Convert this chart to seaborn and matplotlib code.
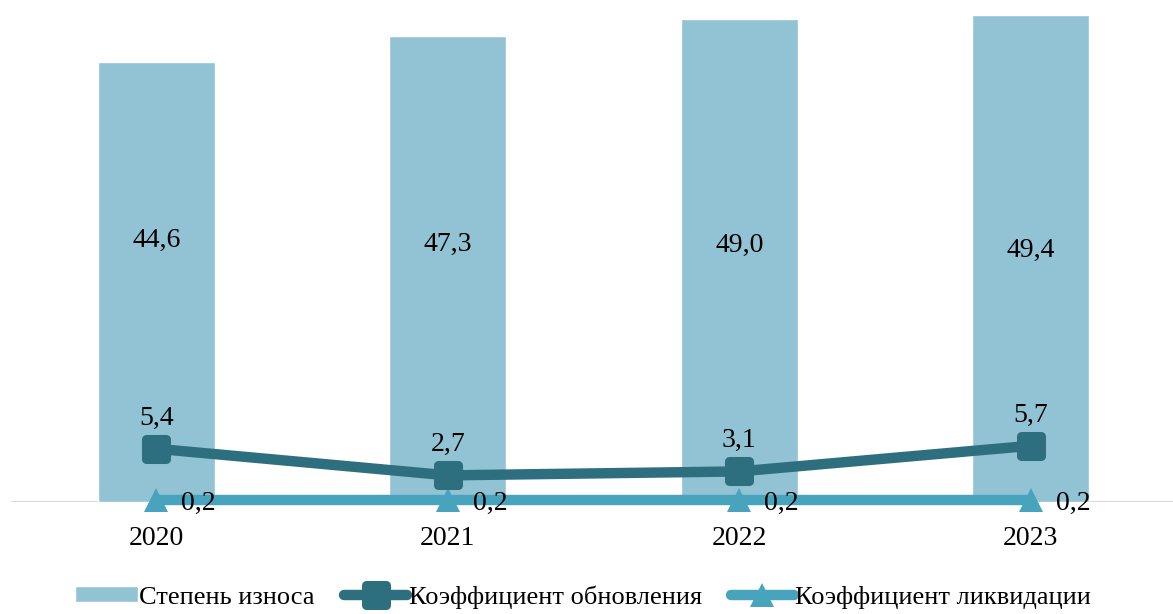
import numpy as np
import pandas as pd
import matplotlib
matplotlib.use("Agg")
import matplotlib.pyplot as plt
from matplotlib.markers import MarkerStyle
import seaborn as sns

years = ["2020", "2021", "2022", "2023"]
wear = [44.6, 47.3, 49.0, 49.4]
renewal = [5.4, 2.7, 3.1, 5.7]
liquidation = [0.2, 0.2, 0.2, 0.2]

names = ["Степень износа", "Коэффициент обновления", "Коэффициент ликвидации"]

bar_color = "#92C3D4"
dark_color = "#2E6F7F"
light_color = "#47A4BC"

sns.set_theme(style="white")
plt.rcParams["font.family"] = ["Liberation Serif", "DejaVu Serif"]
plt.rcParams["text.color"] = "black"
plt.rcParams["xtick.color"] = "black"

fig = plt.figure(figsize=(11.73, 6.14), dpi=100)
ax = fig.add_axes([0.009, 0.1824, 0.994, 0.8176])

df = pd.DataFrame({"year": years, "wear": wear})
sns.barplot(data=df, x="year", y="wear", color=bar_color, width=0.4,
            saturation=1, ax=ax, label=names[0], zorder=2)
if ax.get_legend() is not None:
    ax.get_legend().remove()

ax.axhline(0, color="#d9d9d9", lw=1.5, zorder=1)

x = np.arange(len(years))
sq = MarkerStyle("s", joinstyle="round")
ax.plot(x, renewal, color=dark_color, lw=7.5, marker=sq, markersize=14.5,
        markeredgewidth=6.5, markeredgecolor=dark_color, markerfacecolor=dark_color,
        solid_capstyle="round", label=names[1], zorder=4, clip_on=False)
ax.plot(x, liquidation, color=light_color, lw=7.5, marker="^", markersize=17,
        markeredgewidth=0, markerfacecolor=light_color, label=names[2], zorder=3,
        clip_on=False)

fmt = lambda v: f"{v:.1f}".replace(".", ",")
wear_label_y = [26.5, 26.1, 26.0, 25.5]
for i, v in enumerate(wear):
    ax.text(i, wear_label_y[i], fmt(v), ha="center", va="center", fontsize=20)
for i, v in enumerate(renewal):
    ax.text(i, v + 3.1, fmt(v), ha="center", va="center", fontsize=20)
for i, v in enumerate(liquidation):
    ax.text(i + 0.145, v - 0.3, fmt(v), ha="center", va="center", fontsize=20,
            zorder=5)

ax.set_xlim(-0.5, 3.5)
ax.set_ylim(0, 50.9)
ax.set_xlabel("")
ax.set_ylabel("")
ax.set_yticks([])
ax.tick_params(axis="x", length=0, pad=17, labelsize=20, labelcolor="black")
for s in ax.spines.values():
    s.set_visible(False)

handles, labels = ax.get_legend_handles_labels()
order = [labels.index(n) for n in names]
fig.legend([handles[k] for k in order], [labels[k] for k in order],
           loc="center", bbox_to_anchor=(0.497, 0.028), ncol=3,
           frameon=False, fontsize=19, handlelength=2.4, handleheight=0.55,
           handletextpad=0.05, columnspacing=1.1, labelcolor="black")

fig.savefig("out.png", dpi=100)
